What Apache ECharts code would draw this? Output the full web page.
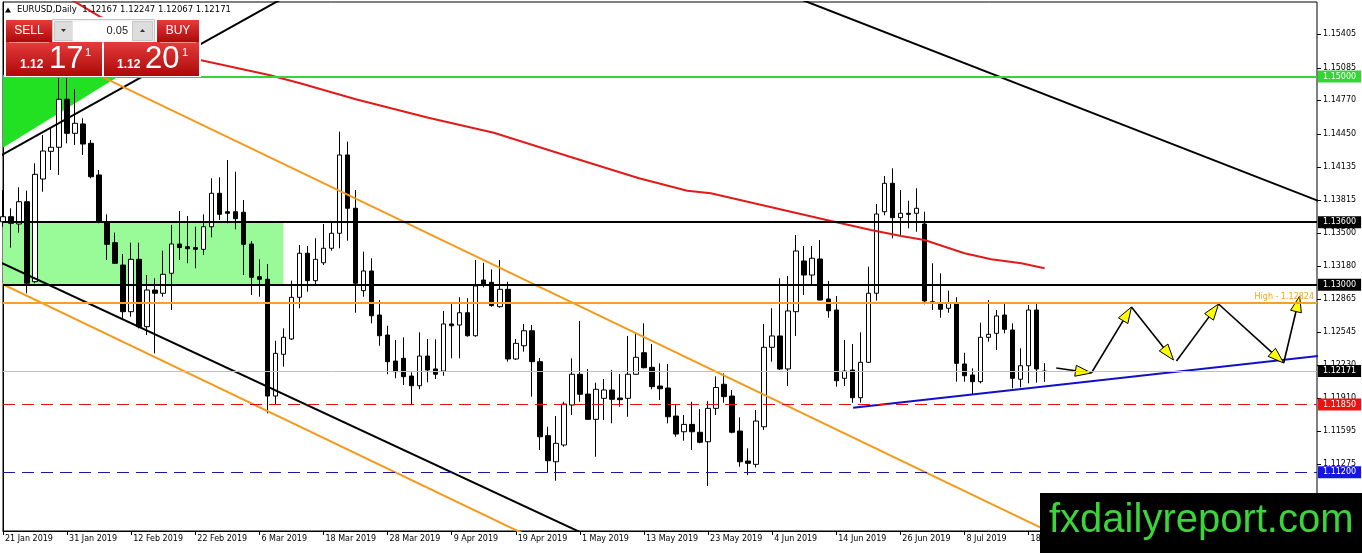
<!DOCTYPE html>
<html><head><meta charset="utf-8">
<script src="https://cdn.jsdelivr.net/npm/echarts@6/dist/echarts.min.js"></script>
<style>html,body{margin:0;padding:0;background:#fff;overflow:hidden}#c{width:1362px;height:553px}</style>
</head><body><div id="c"></div>
<script>
// ---------- data ----------
const dates = [
'21 Jan 2019','22 Jan 2019','23 Jan 2019','24 Jan 2019','25 Jan 2019','28 Jan 2019','29 Jan 2019','30 Jan 2019','31 Jan 2019',
'1 Feb 2019','4 Feb 2019','5 Feb 2019','6 Feb 2019','7 Feb 2019','8 Feb 2019','11 Feb 2019','12 Feb 2019','13 Feb 2019','14 Feb 2019','15 Feb 2019','18 Feb 2019','19 Feb 2019','20 Feb 2019','21 Feb 2019','22 Feb 2019','25 Feb 2019','26 Feb 2019','27 Feb 2019','28 Feb 2019',
'1 Mar 2019','4 Mar 2019','5 Mar 2019','6 Mar 2019','7 Mar 2019','8 Mar 2019','11 Mar 2019','12 Mar 2019','13 Mar 2019','14 Mar 2019','15 Mar 2019','18 Mar 2019','19 Mar 2019','20 Mar 2019','21 Mar 2019','22 Mar 2019','25 Mar 2019','26 Mar 2019','27 Mar 2019','28 Mar 2019','29 Mar 2019',
'1 Apr 2019','2 Apr 2019','3 Apr 2019','4 Apr 2019','5 Apr 2019','8 Apr 2019','9 Apr 2019','10 Apr 2019','11 Apr 2019','12 Apr 2019','15 Apr 2019','16 Apr 2019','17 Apr 2019','18 Apr 2019','19 Apr 2019','22 Apr 2019','23 Apr 2019','24 Apr 2019','25 Apr 2019','26 Apr 2019','29 Apr 2019','30 Apr 2019',
'1 May 2019','2 May 2019','3 May 2019','6 May 2019','7 May 2019','8 May 2019','9 May 2019','10 May 2019','13 May 2019','14 May 2019','15 May 2019','16 May 2019','17 May 2019','20 May 2019','21 May 2019','22 May 2019','23 May 2019','24 May 2019','27 May 2019','28 May 2019','29 May 2019','30 May 2019','31 May 2019',
'3 Jun 2019','4 Jun 2019','5 Jun 2019','6 Jun 2019','7 Jun 2019','10 Jun 2019','11 Jun 2019','12 Jun 2019','13 Jun 2019','14 Jun 2019','17 Jun 2019','18 Jun 2019','19 Jun 2019','20 Jun 2019','21 Jun 2019','24 Jun 2019','25 Jun 2019','26 Jun 2019','27 Jun 2019','28 Jun 2019',
'1 Jul 2019','2 Jul 2019','3 Jul 2019','4 Jul 2019','5 Jul 2019','8 Jul 2019','9 Jul 2019','10 Jul 2019','11 Jul 2019','12 Jul 2019','15 Jul 2019','16 Jul 2019','17 Jul 2019','18 Jul 2019','19 Jul 2019','22 Jul 2019'
];
const futureSlots = 34;
// [open, close, low, high]
const ohlc = [
[1.13605,1.13653,1.13557,1.13910],[1.13653,1.13590,1.13356,1.13734],[1.13583,1.13797,1.13500,1.13936],[1.13797,1.13014,1.12918,1.13903],
[1.13029,1.14060,1.13014,1.14166],[1.14015,1.14284,1.13893,1.14438],[1.14281,1.14320,1.14102,1.14502],[1.14320,1.14781,1.14054,1.14985],
[1.14781,1.14454,1.14358,1.15140],[1.14454,1.14550,1.14342,1.14877],[1.14544,1.14351,1.14246,1.14598],[1.14358,1.14037,1.14022,1.14390],
[1.14054,1.13605,1.13590,1.14102],[1.13605,1.13388,1.13237,1.13676],[1.13404,1.13206,1.13199,1.13500],[1.13189,1.12741,1.12677,1.13295],
[1.12741,1.13244,1.12693,1.13404],[1.13244,1.12597,1.12581,1.13404],[1.12597,1.12949,1.12517,1.13093],[1.12949,1.12918,1.12341,1.13062],
[1.12918,1.13100,1.12885,1.13327],[1.13110,1.13391,1.12757,1.13574],[1.13391,1.13357,1.13237,1.13708],[1.13365,1.13346,1.13206,1.13660],
[1.13356,1.13340,1.13158,1.13557],[1.13340,1.13557,1.13285,1.13676],[1.13557,1.13878,1.13455,1.14022],[1.13878,1.13676,1.13622,1.14032],
[1.13701,1.13686,1.13590,1.14198],[1.13701,1.13634,1.13532,1.14085],[1.13696,1.13388,1.13093,1.13814],[1.13391,1.13071,1.12901,1.13420],
[1.13077,1.13052,1.12885,1.13244],[1.13052,1.11931,1.11765,1.13199],[1.11931,1.12341,1.11854,1.12462],[1.12332,1.12495,1.12213,1.12581],
[1.12479,1.12879,1.12469,1.13039],[1.12879,1.13302,1.12774,1.13381],[1.13302,1.13039,1.12933,1.13372],[1.13039,1.13244,1.12991,1.13446],
[1.13211,1.13350,1.13189,1.13583],[1.13350,1.13494,1.13327,1.13605],[1.13494,1.14246,1.13350,1.14470],[1.14246,1.13734,1.13423,1.14374],
[1.13734,1.13014,1.12731,1.13910],[1.12943,1.13132,1.12885,1.13317],[1.13132,1.12702,1.12629,1.13254],[1.12709,1.12510,1.12414,1.12853],
[1.12517,1.12261,1.12140,1.12606],[1.12267,1.12165,1.12101,1.12469],[1.12293,1.12117,1.12037,1.12495],[1.12123,1.12030,1.11845,1.12159],
[1.12030,1.12315,1.11996,1.12543],[1.12315,1.12181,1.12063,1.12479],[1.12191,1.12140,1.12095,1.12476],[1.12171,1.12623,1.12126,1.12748],
[1.12623,1.12606,1.12293,1.12822],[1.12613,1.12731,1.12293,1.12879],[1.12731,1.12510,1.12501,1.12870],[1.12510,1.12988,1.12500,1.13237],
[1.13045,1.13007,1.12975,1.13211],[1.13023,1.12799,1.12789,1.13148],[1.12789,1.12956,1.12780,1.13237],[1.12956,1.12287,1.12261,1.13029],
[1.12287,1.12437,1.12277,1.12479],[1.12414,1.12558,1.12357,1.12623],[1.12558,1.12261,1.11925,1.12613],[1.12261,1.11540,1.11413,1.12296],
[1.11550,1.11310,1.11195,1.11636],[1.11300,1.11477,1.11118,1.11739],[1.11461,1.11854,1.11444,1.11876],[1.11845,1.12140,1.11749,1.12293],
[1.12140,1.11948,1.11876,1.12652],[1.11950,1.11707,1.11701,1.12191],[1.11707,1.11996,1.11348,1.12059],[1.11909,1.11989,1.11701,1.12095],
[1.11989,1.11900,1.11669,1.12181],[1.11912,1.11896,1.11829,1.12143],[1.11909,1.12140,1.11732,1.12508],[1.12140,1.12303,1.12133,1.12539],
[1.12347,1.12203,1.12197,1.12629],[1.12207,1.12021,1.11996,1.12431],[1.12027,1.12001,1.11893,1.12245],[1.12008,1.11732,1.11669,1.12239],
[1.11739,1.11566,1.11540,1.11851],[1.11588,1.11659,1.11502,1.11749],[1.11659,1.11588,1.11413,1.11876],[1.11583,1.11487,1.11477,1.11806],
[1.11492,1.11813,1.11067,1.11883],[1.11813,1.12013,1.11749,1.12120],[1.12044,1.11925,1.11867,1.12149],[1.11931,1.11583,1.11573,1.11989],
[1.11595,1.11300,1.11252,1.11727],[1.11307,1.11285,1.11173,1.11429],[1.11275,1.11691,1.11246,1.11797],[1.11636,1.12399,1.11605,1.12623],
[1.12399,1.12508,1.12261,1.12774],[1.12508,1.12191,1.12181,1.13062],[1.12191,1.12748,1.12027,1.13084],[1.12741,1.13324,1.12508,1.13478],
[1.13228,1.13093,1.12901,1.13372],[1.13093,1.13254,1.13007,1.13372],[1.13247,1.12853,1.12850,1.13429],[1.12863,1.12750,1.12683,1.13036],
[1.12757,1.12078,1.12021,1.12892],[1.12101,1.12171,1.12027,1.12469],[1.12181,1.11915,1.11867,1.12431],[1.11915,1.12255,1.11867,1.12543],
[1.12255,1.12918,1.12250,1.13173],[1.12918,1.13679,1.12847,1.13775],[1.13701,1.13974,1.13667,1.14044],[1.13974,1.13644,1.13446,1.14118],
[1.13644,1.13686,1.13478,1.13910],[1.13686,1.13676,1.13542,1.13807],[1.13686,1.13734,1.13509,1.13926],[1.13583,1.12844,1.12812,1.13701],
[1.12837,1.12827,1.12757,1.13206],[1.12827,1.12764,1.12683,1.13110],[1.12774,1.12827,1.12731,1.12943],[1.12827,1.12245,1.12069,1.12879],
[1.12239,1.12126,1.12069,1.12347],[1.12133,1.12069,1.11950,1.12197],[1.12069,1.12495,1.12053,1.12635],[1.12495,1.12524,1.12453,1.12853],
[1.12533,1.12700,1.12373,1.12757],[1.12709,1.12572,1.12533,1.12822],[1.12565,1.12101,1.12005,1.12629],[1.12092,1.12222,1.12015,1.12389],
[1.12222,1.12757,1.12053,1.12805],[1.12757,1.12191,1.12059,1.12822],[1.12167,1.12171,1.12067,1.12247]
];
const yTicks = [1.15405,1.15085,1.14770,1.14450,1.14135,1.13815,1.13500,1.13180,1.12865,1.12545,1.12230,1.11910,1.11595,1.11275,1.10955];
const priceMin = 1.10635, priceMax = 1.15715;
// moving average (bar index, price)
const maLine = [[7,1.15802],[9.21,1.15706],[12.09,1.15574],[24.59,1.15158],[33.21,1.15014],[37.09,1.14934],[44.03,1.14781],[53.09,1.14604],
[61.26,1.14460],[70.75,1.14229],[79.38,1.14022],[85.41,1.13903],[88.34,1.13878],[93.75,1.13782],[98.34,1.13701],[103.34,1.13612],
[108.34,1.13526],[112.09,1.13468],[115,1.13429],[120,1.13302],[123.34,1.13244],[127.09,1.13206],[130,1.13158]];
// trend lines (bar index, price)
const blackUpperLeft = [[-1,1.14210],[35,1.15754]];
const blackLowerChannel = [[-1,1.13239],[80,1.10339]];
const blackUpperRight = [[98,1.15787],[170,1.13630]];
const orangeUpper = [[12,1.15010],[140,1.10280]];
const orangeLower = [[-1,1.13041],[70,1.10423]];
const blueSupport = [[106.1,1.11819],[165,1.12323]];
// zones
const greenZone = [[0,1.13600],[35,1.13000]];
const greenTriangle = [[0,1.14315],[0,1.15014],[14.7,1.15014]];
// forecast arrows [x1,y1,x2,y2]
const arrows = [
[131.46,1.12200,135.84,1.12152],[135.84,1.12152,140.84,1.12786],[140.84,1.12786,146.09,1.12277],
[146.46,1.12267,151.71,1.12815],[151.71,1.12815,159.84,1.12248],[159.84,1.12248,161.84,1.12892]];
// horizontal levels
const levelGreen = 1.15000, levelTop = 1.13600, levelMid = 1.13000, levelHigh = 1.12824,
      levelBid = 1.12171, levelRed = 1.11850, levelBlue = 1.11200;

// ---------- chart ----------
const FONT = 'DejaVu Sans';
const categories = dates.concat(Array.from({length: futureSlots}, (_, k) => '+' + (k + 1)));
const lastIdx = categories.length - 1;
const showIdx = (i) => i % 8 === 0 && i < dates.length;
const chart = echarts.init(document.getElementById('c'), null, {renderer: 'canvas'});

function lineSeries(data, color, width) {
  return {type: 'line', xAxisIndex: 1, data: data, showSymbol: false, symbol: 'none', silent: true,
    lineStyle: {color: color, width: width}, z: 3, clip: true, animation: false};
}
function polySeries(points, color) {
  return {type: 'custom', xAxisIndex: 1, data: [[points[0][0], points[0][1]]], silent: true, z: 1, clip: true,
    renderItem: (params, api) => ({type: 'polygon', shape: {points: points.map(p => api.coord(p))}, style: {fill: color}})};
}
function rectPoints(r) {
  return [[r[0][0], r[0][1]], [r[1][0], r[0][1]], [r[1][0], r[1][1]], [r[0][0], r[1][1]]];
}
function boxLabel(text, bg) {
  return {show: true, position: 'end', distance: 1, formatter: text, color: '#fff', backgroundColor: bg,
    padding: [2, 5, 1, 5], fontFamily: FONT, fontSize: 8, lineHeight: 9};
}
const redGrad = new echarts.graphic.LinearGradient(0, 0, 0, 1, [{offset: 0, color: '#e53b3b'}, {offset: 1, color: '#ad0909'}]);
const txt = (x, y, s, font, fill, align) => ({type: 'text', x: x, y: y, z: 101,
  style: {text: s, font: font, fill: fill, align: align || 'left', textAlign: align || 'left', verticalAlign: 'middle', textVerticalAlign: 'middle'}});

const option = {
  animation: false,
  backgroundColor: '#fff',
  grid: {left: 3, right: 45, top: 2, bottom: 22, show: true, borderColor: '#000', borderWidth: 1, backgroundColor: '#fff'},
  xAxis: [{
    type: 'category', data: categories, boundaryGap: false,
    axisLine: {show: true, lineStyle: {color: '#000'}},
    axisTick: {show: true, interval: (i) => showIdx(i), length: 4, lineStyle: {color: '#000'}},
    axisLabel: {interval: (i) => showIdx(i), align: 'left', margin: 4, padding: [0, 0, 0, 2], color: '#000', fontFamily: FONT, fontSize: 8},
    splitLine: {show: false}
  }, {type: 'value', min: 0, max: lastIdx, show: false}],
  yAxis: {
    type: 'value', position: 'right', min: priceMin, max: priceMax,
    axisLine: {show: true, lineStyle: {color: '#000'}},
    axisTick: {show: false},
    axisLabel: {customValues: yTicks, formatter: (v) => v.toFixed(5), color: '#000', fontFamily: FONT, fontSize: 8, margin: 6},
    splitLine: {show: false}
  },
  series: [
    polySeries(rectPoints(greenZone), '#98fb98'),
    polySeries(greenTriangle, '#22e022'),
    {
      type: 'candlestick', data: ohlc, barWidth: 5, z: 2, silent: true, clip: true,
      itemStyle: {color: '#ffffff', color0: '#000000', borderColor: '#000000', borderColor0: '#000000', borderWidth: 1}
    },
    Object.assign(lineSeries(maLine, '#e01b1b', 2), {
      markLine: {
        symbol: ['none', 'none'], silent: true, animation: false, precision: 5,
        data: [
          {yAxis: levelBid, lineStyle: {color: '#c0c0c0', width: 1, type: 'solid'}, label: boxLabel('1.12171', '#000')},
          {yAxis: levelGreen, lineStyle: {color: '#34d634', width: 2, type: 'solid'}, label: boxLabel('1.15000', '#34d634')},
          {yAxis: levelTop, lineStyle: {color: '#000', width: 2, type: 'solid'}, label: boxLabel('1.13600', '#000')},
          {yAxis: levelMid, lineStyle: {color: '#000', width: 2, type: 'solid'}, label: boxLabel('1.13000', '#000')},
          {yAxis: levelHigh, lineStyle: {color: '#f4a124', width: 2, type: 'solid'},
            label: {show: true, position: 'insideEndTop', distance: [3, 2], formatter: 'High - 1.12824', color: '#f4a124', fontFamily: FONT, fontSize: 8}},
          {yAxis: levelRed, lineStyle: {color: '#e01010', width: 1, type: [12, 7]}, label: boxLabel('1.11850', '#ee1111')},
          {yAxis: levelBlue, lineStyle: {color: '#1a1aa0', width: 1, type: [12, 7]}, label: boxLabel('1.11200', '#1515e0')}
        ]
      }
    }),
    lineSeries(blackUpperLeft, '#000', 2),
    lineSeries(blackLowerChannel, '#000', 2),
    lineSeries(blackUpperRight, '#000', 2),
    lineSeries(orangeUpper, '#f39a1e', 2),
    lineSeries(orangeLower, '#f39a1e', 2),
    lineSeries(blueSupport, '#1010c8', 2),
    {
      type: 'custom', xAxisIndex: 1, data: arrows, dimensions: ['x1', 'y1', 'x2', 'y2'], encode: {x: 0, y: 1},
      silent: true, z: 4, clip: false,
      renderItem: (params, api) => {
        const a = api.coord([api.value(0), api.value(1)]);
        const b = api.coord([api.value(2), api.value(3)]);
        const dx = b[0] - a[0], dy = b[1] - a[1], L = Math.hypot(dx, dy);
        const ux = dx / L, uy = dy / L, hl = 16, hw = 5.5;
        const bx = b[0] - ux * hl, by = b[1] - uy * hl;
        return {type: 'group', children: [
          {type: 'line', shape: {x1: a[0], y1: a[1], x2: bx, y2: by}, style: {stroke: '#000', lineWidth: 1.6}},
          {type: 'polygon', shape: {points: [[b[0], b[1]], [bx - uy * hw, by + ux * hw], [bx + uy * hw, by - ux * hw]]},
            style: {fill: '#ffff00', stroke: '#000', lineWidth: 1}}
        ]};
      }
    },
    {
      // price-scale tick marks on the right of the axis line
      type: 'custom', xAxisIndex: 1, data: yTicks.map(v => [lastIdx, v]), silent: true, z: 5, clip: false,
      renderItem: (params, api) => {
        const c = api.coord([api.value(0), api.value(1)]);
        const y = Math.round(c[1]) + 0.5;
        return {type: 'line', shape: {x1: c[0], y1: y, x2: c[0] + 4, y2: y}, style: {stroke: '#000', lineWidth: 1}};
      }
    }
  ],
  graphic: [
    {type: 'polygon', z: 101, shape: {points: [[5, 12.5], [11, 12.5], [8, 7.5]]}, style: {fill: '#000'}},
    txt(17, 10, 'EURUSD,Daily  1.12167 1.12247 1.12067 1.12171', '8.5px "DejaVu Sans"', '#000'),
    // one-click trading panel
    {type: 'rect', z: 100, shape: {x: 4, y: 17, width: 197, height: 60}, style: {fill: '#fff'}},
    {type: 'rect', z: 100, shape: {x: 52.5, y: 19.5, width: 102, height: 23}, style: {fill: '#f2f2f2', stroke: '#c4c4c4', lineWidth: 1}},
    {type: 'rect', z: 101, shape: {x: 54.5, y: 21.5, width: 18, height: 19}, style: {fill: '#dddddd', stroke: '#c8c8c8'}},
    {type: 'polygon', z: 102, shape: {points: [[61, 29], [66, 29], [63.5, 32]]}, style: {fill: '#333'}},
    {type: 'rect', z: 101, shape: {x: 72.5, y: 21.5, width: 60, height: 19}, style: {fill: '#fff'}},
    txt(128, 31, '0.05', '11px "Liberation Sans"', '#222', 'right'),
    {type: 'rect', z: 101, shape: {x: 132.5, y: 21.5, width: 20, height: 19}, style: {fill: '#dddddd', stroke: '#c8c8c8'}},
    {type: 'polygon', z: 102, shape: {points: [[140, 32], [145, 32], [142.5, 29]]}, style: {fill: '#333'}},
    {type: 'rect', z: 100, shape: {x: 6, y: 20, width: 46, height: 22}, style: {fill: redGrad}},
    {type: 'rect', z: 100, shape: {x: 6, y: 42, width: 96, height: 34}, style: {fill: redGrad}},
    {type: 'rect', z: 100, shape: {x: 157, y: 20, width: 42, height: 22}, style: {fill: redGrad}},
    {type: 'rect', z: 100, shape: {x: 104, y: 42, width: 95, height: 34}, style: {fill: redGrad}},
    {type: 'line', z: 101, shape: {x1: 9, y1: 42.5, x2: 49, y2: 42.5}, style: {stroke: '#f29090', lineWidth: 1}},
    {type: 'line', z: 101, shape: {x1: 160, y1: 42.5, x2: 196, y2: 42.5}, style: {stroke: '#f29090', lineWidth: 1}},
    txt(29, 31, 'SELL', '12px "Liberation Sans"', '#fff', 'center'),
    txt(178, 31, 'BUY', '12px "Liberation Sans"', '#fff', 'center'),
    txt(20, 65, '1.12', 'bold 12px "Liberation Sans"', '#fff'),
    txt(49, 59, '17', '31px "Liberation Sans"', '#fff'),
    txt(85, 53, '1', '11px "Liberation Sans"', '#fff'),
    txt(117, 65, '1.12', 'bold 12px "Liberation Sans"', '#fff'),
    txt(145, 59, '20', '31px "Liberation Sans"', '#fff'),
    txt(182, 53, '1', '11px "Liberation Sans"', '#fff'),
    // watermark
    {type: 'rect', z: 100, shape: {x: 1040, y: 493, width: 322, height: 60}, style: {fill: '#000'}},
    txt(1049, 521, 'fxdailyreport.com', '40px "Liberation Sans"', '#3bd43b')
  ]
};
chart.setOption(option);
</script>
</body></html>
